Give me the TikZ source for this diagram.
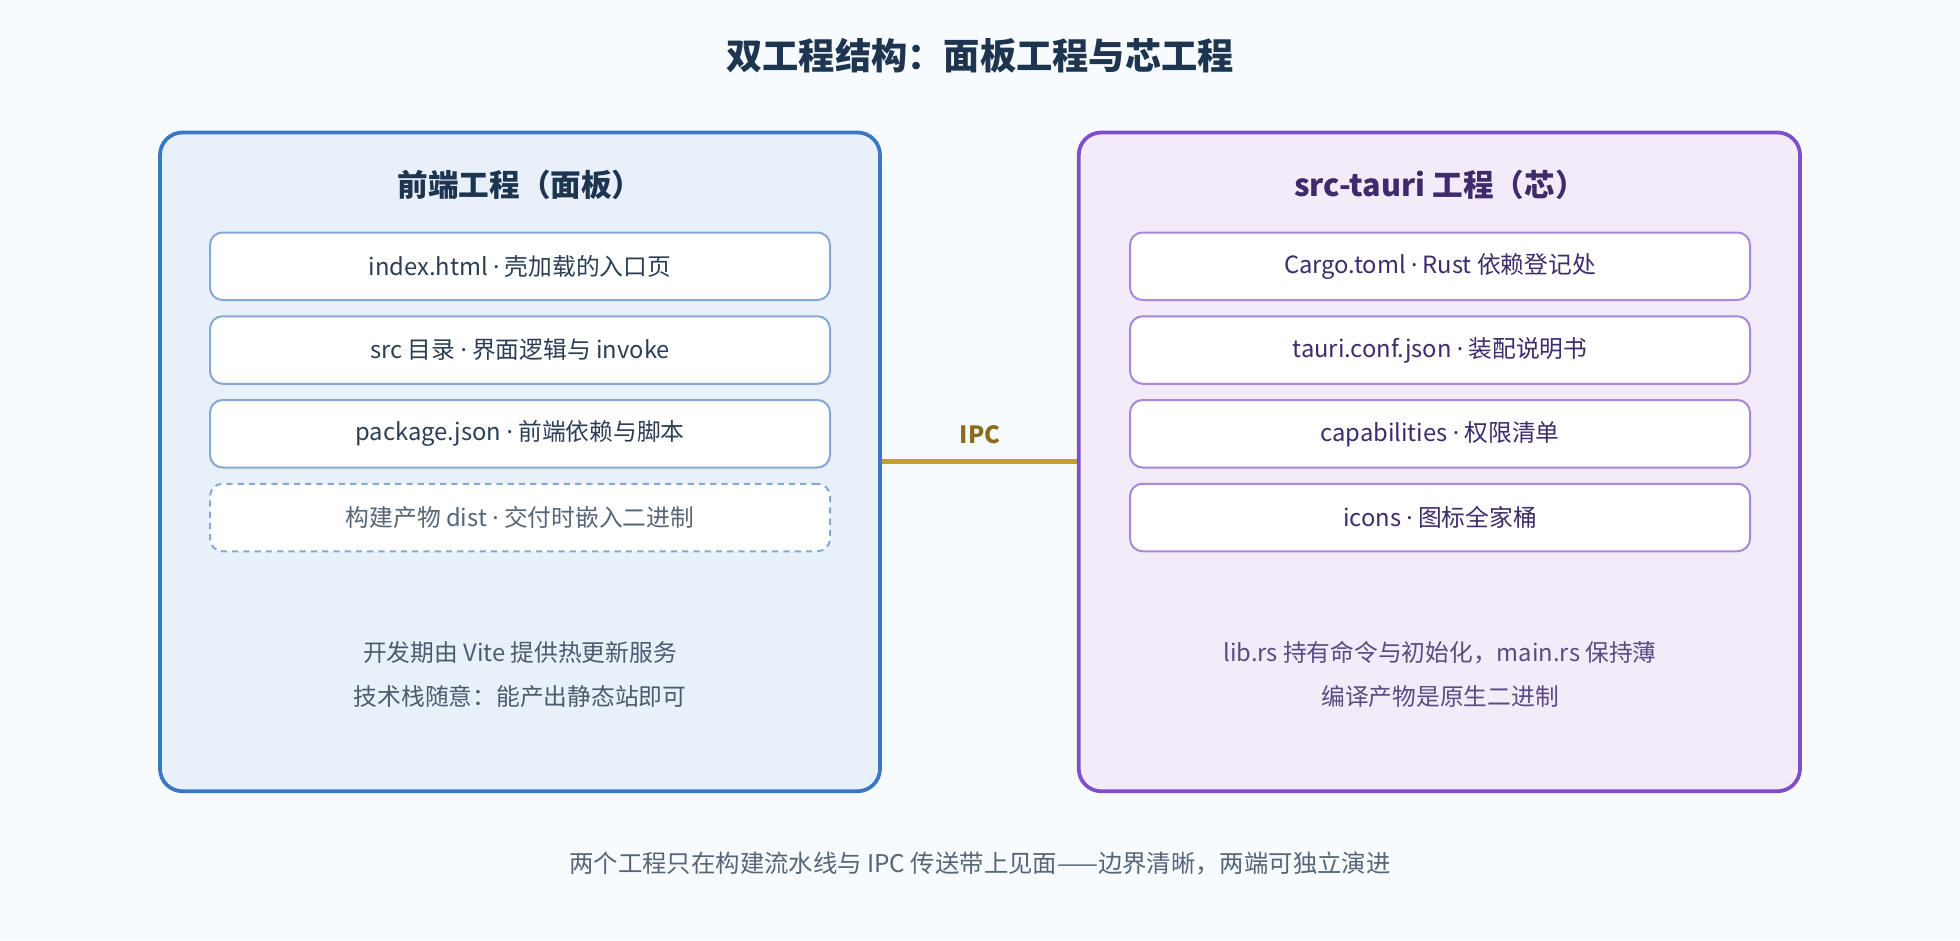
\documentclass[tikz,border=0pt]{standalone}
\usepackage{fontspec}
\setmainfont{Noto Sans CJK SC}
\newfontfamily\latinf{Noto Sans}
\newcommand{\md}{{\latinf ·}}
\begin{document}
\begin{tikzpicture}[x=1pt,y=-1pt,
 panelL/.style={draw=blueE,line width=3pt,fill=blueF,rounded corners=18pt},
 panelR/.style={draw=purpE,line width=3pt,fill=purpF,rounded corners=18pt},
 itemL/.style={draw=blueI,line width=1.6pt,fill=white,rounded corners=10pt,minimum width=496pt,minimum height=54pt,text=blueT,font=\fontsize{19}{22}\selectfont},
 itemR/.style={draw=purpI,line width=1.6pt,fill=white,rounded corners=10pt,minimum width=496pt,minimum height=54pt,text=purpT,font=\fontsize{19}{22}\selectfont},
 note/.style={font=\fontsize{19}{22}\selectfont}]
\definecolor{bg}{HTML}{F8FBFE}
\definecolor{blueE}{HTML}{3B78C4}\definecolor{blueF}{HTML}{E8F0FA}
\definecolor{blueI}{HTML}{85A8D4}\definecolor{blueT}{HTML}{2C3E55}
\definecolor{purpE}{HTML}{7E4FC9}\definecolor{purpF}{HTML}{F3EBFA}
\definecolor{purpI}{HTML}{A888D8}\definecolor{purpT}{HTML}{3F2A6B}
\definecolor{navy}{HTML}{1E3550}\definecolor{gold}{HTML}{C4A02A}\definecolor{goldT}{HTML}{8A6D1A}
\fill[bg] (0,0) rectangle (1568,752);
\useasboundingbox (0,0) rectangle (1568,752);
\node[font=\bfseries\fontsize{29}{34}\selectfont,text=navy] (title) at (784,45) {双工程结构：面板工程与芯工程};
\node[panelL,minimum width=576pt,minimum height=527pt] (L) at (416,369.5) {};
\node[panelR,minimum width=577pt,minimum height=527pt] (R) at (1151.5,369.5) {};
\node[font=\bfseries\fontsize{24.5}{28}\selectfont,text=navy] (Lt) at (416,148) {前端工程（面板）};
\node[font=\bfseries\fontsize{24.5}{28}\selectfont,text=purpT] (Rt) at (1152,148) {src-tauri 工程（芯）};
\node[itemL] (l1) at (416,213) {index.html \md{} 壳加载的入口页};
\node[itemL] (l2) at (416,280) {src 目录 \md{} 界面逻辑与 invoke};
\node[itemL] (l3) at (416,347) {package.json \md{} 前端依赖与脚本};
\node[itemL,dashed,dash pattern=on 5pt off 4pt,text=blueT!80] (l4) at (416,414) {构建产物 dist \md{} 交付时嵌入二进制};
\node[itemR] (r1) at (1152,213) {Cargo.toml \md{} Rust 依赖登记处};
\node[itemR] (r2) at (1152,280) {tauri.conf.json \md{} 装配说明书};
\node[itemR] (r3) at (1152,347) {capabilities \md{} 权限清单};
\node[itemR] (r4) at (1152,414) {icons \md{} 图标全家桶};
\node[note,text=blueT!85] (ln1) at (416,522) {开发期由 Vite 提供热更新服务};
\node[note,text=blueT!85] (ln2) at (416,557) {技术栈随意：能产出静态站即可};
\node[note,text=purpT!85] (rn1) at (1152,522) {lib.rs 持有命令与初始化，main.rs 保持薄};
\node[note,text=purpT!85] (rn2) at (1152,557) {编译产物是原生二进制};
\draw[gold,line width=4pt] (L.east |- 0,369) -- (R.west |- 0,369);
\node[font=\bfseries\fontsize{19}{22}\selectfont,text=goldT] (ipc) at (784,348) {IPC};
\node[note,text=blueT!80,font=\fontsize{19.5}{22}\selectfont] (foot) at (784,691) {两个工程只在构建流水线与 IPC 传送带上见面——边界清晰，两端可独立演进};
\end{tikzpicture}
\end{document}
